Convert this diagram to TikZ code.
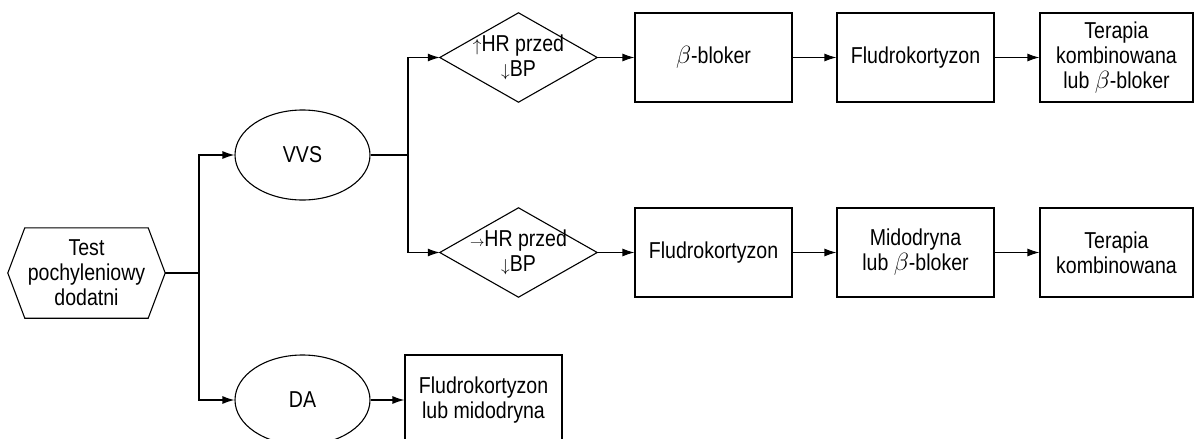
\documentclass[tikz,border=0pt]{standalone}
\usepackage{fontspec}
\setmainfont{Liberation Sans}[FakeStretch=0.85]
\usetikzlibrary{arrows.meta,shapes.geometric}
\newcommand{\smallarr}[1]{{\fontsize{15}{15}\selectfont$#1$}}
\newcommand{\vertarr}[1]{{\fontsize{19}{19}\selectfont$#1$}}
\begin{document}
\begin{tikzpicture}[x=1pt,y=-1pt,
  every node/.style={font=\fontsize{23}{25}\selectfont, align=center, inner sep=0pt},
  line/.style={line width=1.1pt, draw=black},
  arr/.style={line, -{Latex[length=12pt,width=8pt]}},
  box/.style={line, rectangle, minimum width=157pt, minimum height=89pt},
  oval/.style={line, ellipse, minimum width=135pt, minimum height=90pt},
  frame/.style={rectangle, minimum width=157pt, minimum height=89pt}
]
\useasboundingbox (0,0) rectangle (1194,439);
% hexagon start node
\node[frame, minimum height=90pt] (hex) at (86.5,273) {Test\\pochyleniowy\\dodatni};
\draw[line] (hex.west) -- ([xshift=17pt]hex.north west) -- ([xshift=-17pt]hex.north east)
  -- (hex.east) -- ([xshift=-17pt]hex.south east) -- ([xshift=17pt]hex.south west) -- cycle;
% ellipses
\node[oval] (vvs) at (302.5,155) {VVS};
\node[oval] (da) at (302.5,400) {DA};
% diamonds
\node[frame] (d1) at (518.5,57.5) {\vertarr{\uparrow}HR przed\\\vertarr{\downarrow}BP};
\draw[line] (d1.west) -- (d1.north) -- (d1.east) -- (d1.south) -- cycle;
\node[frame] (d2) at (518.5,252.5) {\smallarr{\rightarrow}HR przed\\\vertarr{\downarrow}BP};
\draw[line] (d2.west) -- (d2.north) -- (d2.east) -- (d2.south) -- cycle;
% boxes row 1
\node[box] (b1) at (713.5,57.5) {$\beta$-bloker};
\node[box] (b2) at (915.5,57.5) {Fludrokortyzon};
\node[box, minimum width=153pt] (b3) at (1116.5,57.5) {Terapia\\kombinowana\\lub $\beta$-bloker};
% boxes row 2
\node[box] (c1) at (713.5,252.5) {Fludrokortyzon};
\node[box] (c2) at (915.5,252.5) {Midodryna\\lub $\beta$-bloker};
\node[box, minimum width=153pt] (c3) at (1116.5,252.5) {Terapia\\kombinowana};
% DA box
\node[box, minimum height=90pt] (e1) at (483.5,400) {Fludrokortyzon\\lub midodryna};
% junctions
\coordinate (t1) at (199,273);
\coordinate (t2) at (408,155);
% connectors
\draw[line] (hex.east) -- (t1);
\draw[arr] (t1) |- (vvs.west);
\draw[arr] (t1) |- (da.west);
\draw[line] (vvs.east) -- (t2);
\draw[arr] (t2) |- (d1.west);
\draw[arr] (t2) |- (d2.west);
\draw[arr] (d1.east) -- (b1.west);
\draw[arr] (b1.east) -- (b2.west);
\draw[arr] (b2.east) -- (b3.west);
\draw[arr] (d2.east) -- (c1.west);
\draw[arr] (c1.east) -- (c2.west);
\draw[arr] (c2.east) -- (c3.west);
\draw[arr] (da.east) -- (e1.west);
\end{tikzpicture}
\end{document}
